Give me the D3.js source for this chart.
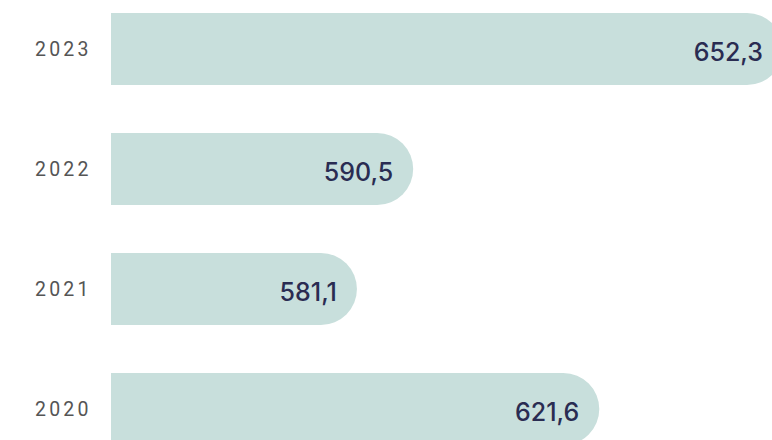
<!DOCTYPE html>
<html>
<head>
<meta charset="utf-8">
<script src="https://cdn.jsdelivr.net/npm/d3@7"></script>
<style>
  html, body { margin: 0; padding: 0; background: #ffffff; overflow: hidden; }
  svg { display: block; }
</style>
</head>
<body>
<svg id="chart" width="772" height="440"></svg>
<script>
const years = ["2023", "2022", "2021", "2020"];
const values = [652.3, 590.5, 581.1, 621.6];
const valueLabels = ["652,3", "590,5", "581,1", "621,6"];

const W = 772, H = 440;
const svg = d3.select("#chart");

const x = d3.scaleLinear().domain([540, 652.3]).range([111, 783]);
const y = d3.scaleBand().domain(years).range([-11, 469]).paddingInner(0.4).paddingOuter(0.2);

const barH = 72;
const r = 36;

function barPath(x0, x1, yTop, h, rad) {
  const rr = Math.min(rad, x1 - x0, h / 2);
  return `M${x0},${yTop}H${x1 - rr}A${rr},${rr} 0 0 1 ${x1},${yTop + rr}V${yTop + h - rr}A${rr},${rr} 0 0 1 ${x1 - rr},${yTop + h}H${x0}Z`;
}

const data = years.map((yr, i) => ({ yr, v: values[i], lbl: valueLabels[i] }));

const g = svg.append("g");

g.selectAll("path.bar").data(data).join("path")
  .attr("class", "bar")
  .attr("d", d => {
    const yc = y(d.yr) + y.bandwidth() / 2;
    return barPath(x.range()[0], x(d.v), yc - barH / 2, barH, r);
  })
  .attr("fill", "#c8dfdc");

g.selectAll("text.val").data(data).join("text")
  .attr("class", "val")
  .attr("x", d => x(d.v) - 20)
  .attr("y", d => y(d.yr) + y.bandwidth() / 2 + 11.5)
  .attr("text-anchor", "end")
  .attr("font-family", "Inter, sans-serif")
  .attr("font-weight", 500)
  .attr("font-size", 25)
  .attr("fill", "#2a2c52")
  .text(d => d.lbl);

g.selectAll("text.yr").data(data).join("text")
  .attr("class", "yr")
  .attr("x", 35)
  .attr("y", d => y(d.yr) + y.bandwidth() / 2 + 7)
  .attr("font-family", "Roboto, sans-serif")
  .attr("font-size", 19.5)
  .attr("letter-spacing", 3.2)
  .attr("fill", "#555555")
  .text(d => d.yr);
</script>
</body>
</html>
